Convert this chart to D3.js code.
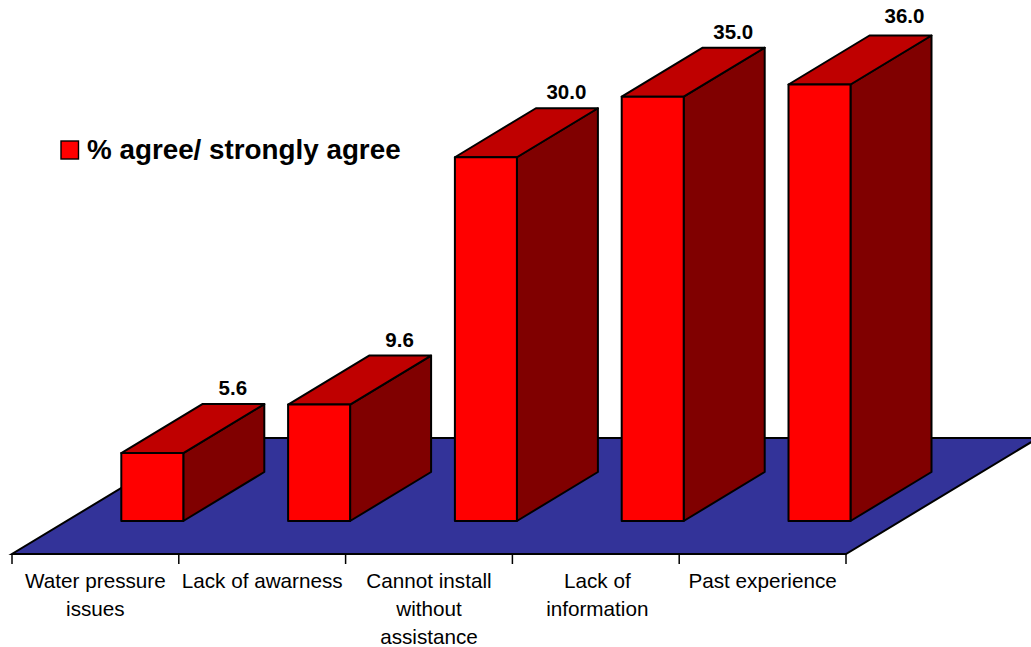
<!DOCTYPE html>
<html><head><meta charset="utf-8">
<script src="https://cdn.jsdelivr.net/npm/d3@7"></script>
<style>html,body{margin:0;padding:0;background:#fff;overflow:hidden}svg{display:block}text{font-family:"Liberation Sans",Arial,sans-serif;fill:#000}</style>
</head><body><div id="c"></div>
<script>
const categories = ["Water pressure issues","Lack of awarness","Cannot install without assistance","Lack of information","Past experience"];
const categoryLines = [["Water pressure","issues"],["Lack of awarness"],["Cannot install","without","assistance"],["Lack of","information"],["Past experience"]];
const values = [5.6,9.6,30.0,35.0,36.0];
const legendLabel = "% agree/ strongly agree";

const W=1031,H=647;
const svg=d3.select("#c").append("svg").attr("width",W).attr("height",H);
const x=d3.scaleBand().domain(categories).range([12,846]);
const y=d3.scaleLinear().domain([0,36]).range([521,84.5]);
const barOff=109.3,barW=62,depX=81,depY=49,floorDX=192,floorDY=116,floorY=554;
const line=d3.line();
const SW=2;

// floor
svg.append("path").attr("d",line([[12,floorY],[846,floorY],[846+floorDX,floorY-floorDY],[12+floorDX,floorY-floorDY]])+"Z")
  .attr("fill","#333399").attr("stroke","#000").attr("stroke-width",SW).attr("stroke-linejoin","miter");

// axis ticks and labels
const ticks=categories.map(c=>x(c)).concat([x.range()[1]]);
svg.append("g").selectAll("line").data(ticks).join("line")
  .attr("x1",d=>d).attr("x2",d=>d).attr("y1",floorY).attr("y2",floorY+10)
  .attr("stroke","#000").attr("stroke-width",1.5);
categories.forEach((c,i)=>{
  const t=svg.append("text").attr("text-anchor","middle").attr("font-size",20.7);
  categoryLines[i].forEach((l,j)=>t.append("tspan").attr("x",x(c)+x.bandwidth()/2-(i===3?-1.5:0)).attr("y",588+j*28).text(l));
});

// bars
const g=svg.selectAll("g.bar").data(categories.map((c,i)=>({c,v:values[i]}))).join("g").attr("class","bar")
  .attr("stroke","#000").attr("stroke-width",SW).attr("stroke-linejoin","round");
g.append("path").attr("fill","#800000").attr("d",d=>{const r=x(d.c)+barOff+barW;return line([[r,y(0)],[r+depX,y(0)-depY],[r+depX,y(d.v)-depY],[r,y(d.v)]])+"Z";});
g.append("path").attr("fill","#bf0000").attr("d",d=>{const l=x(d.c)+barOff;return line([[l,y(d.v)],[l+barW,y(d.v)],[l+barW+depX,y(d.v)-depY],[l+depX,y(d.v)-depY]])+"Z";});
g.append("path").attr("fill","#ff0000").attr("d",d=>{const l=x(d.c)+barOff;return line([[l,y(d.v)],[l+barW,y(d.v)],[l+barW,y(0)],[l,y(0)]])+"Z";});

// value labels
svg.append("g").selectAll("text").data(categories.map((c,i)=>({c,v:values[i]}))).join("text")
  .attr("text-anchor","middle").attr("font-size",20.5).attr("font-weight","bold")
  .attr("x",d=>x(d.c)+barOff+barW/2+depX-0.5+(d.v===36?4.5:0)).attr("y",d=>y(d.v)-depY-(d.v===36?12.5:9)).text(d=>d.v.toFixed(1));

// legend
svg.append("rect").attr("x",61).attr("y",141).attr("width",17.5).attr("height",18).attr("fill","#ff0000").attr("stroke","#000").attr("stroke-width",1.4);
svg.append("text").attr("x",87).attr("y",159).attr("font-size",27.8).attr("font-weight","bold").text(legendLabel);
</script></body></html>
